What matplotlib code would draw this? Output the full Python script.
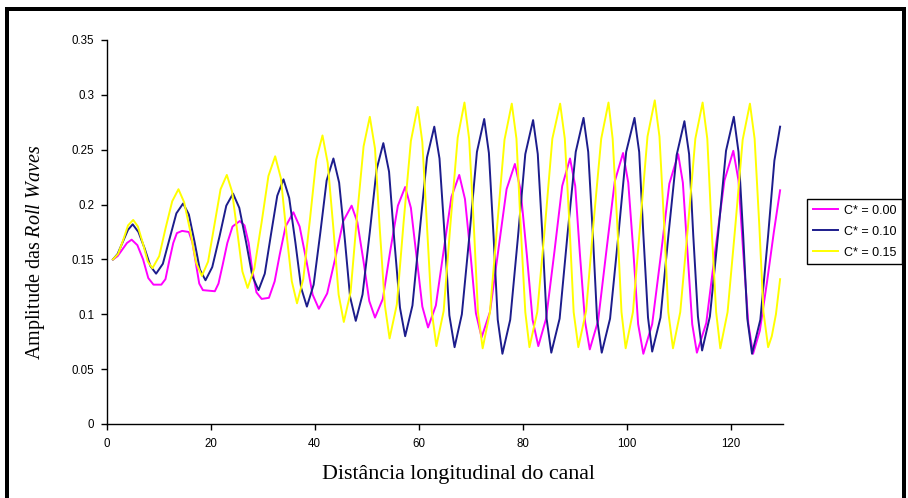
import numpy as np
import matplotlib.pyplot as plt
from matplotlib.patches import Rectangle
from matplotlib.ticker import FuncFormatter

plt.rcParams['mathtext.fontset'] = 'custom'
plt.rcParams['mathtext.rm'] = 'Liberation Serif'
plt.rcParams['mathtext.it'] = 'Liberation Serif:italic'

# ---- data (distance, amplitude) ----
labels = ["C* = 0.00", "C* = 0.10", "C* = 0.15"]
colors = ["#FF00FF", "#1C1C8C", "#FFFF00"]

x_c000 = [1.2, 2.1, 3.0, 3.9, 4.8, 5.9, 7.0, 8.0, 9.0, 10.5, 11.3, 12.0, 12.8, 13.5, 14.5, 15.8,
          16.5, 17.2, 17.8, 18.5, 20.8, 21.5, 22.3, 23.2, 24.2, 25.6, 26.5, 27.3, 28.0, 28.8, 29.8,
          31.2, 32.3, 33.3, 34.4, 35.9, 37.1, 38.4, 39.6, 40.8, 42.4, 44.0, 45.5, 47.1, 48.2, 49.4,
          50.5, 51.6, 53.1, 54.5, 56.0, 57.4, 58.5, 59.6, 60.7, 61.8, 63.3, 64.8, 66.3, 67.8, 68.9,
          70.0, 71.0, 72.1, 73.7, 75.3, 76.9, 78.5, 79.6, 80.8, 81.9, 83.0, 84.5, 86.1, 87.6, 89.1,
          90.1, 91.0, 92.0, 92.9, 94.5, 96.1, 97.7, 99.3, 100.3, 101.3, 102.2, 103.2, 104.9, 106.6,
          108.2, 109.9, 110.8, 111.7, 112.6, 113.5, 115.3, 117.0, 118.8, 120.5, 121.5, 122.4, 123.4,
          124.3, 125.6, 127.0, 128.3, 129.5]
y_c000 = [0.150, 0.153, 0.159, 0.165, 0.168, 0.163, 0.150, 0.133, 0.127, 0.127, 0.132, 0.148, 0.165,
          0.174, 0.176, 0.175, 0.165, 0.145, 0.128, 0.122, 0.121, 0.128, 0.145, 0.165, 0.180, 0.185,
          0.181, 0.165, 0.140, 0.120, 0.114, 0.115, 0.130, 0.155, 0.180, 0.193, 0.180, 0.149, 0.118,
          0.105, 0.119, 0.152, 0.185, 0.199, 0.184, 0.148, 0.112, 0.097, 0.114, 0.157, 0.199, 0.216,
          0.197, 0.152, 0.107, 0.088, 0.108, 0.158, 0.207, 0.227, 0.205, 0.153, 0.101, 0.079, 0.102,
          0.158, 0.214, 0.237, 0.213, 0.154, 0.095, 0.071, 0.096, 0.157, 0.217, 0.242, 0.217, 0.155,
          0.093, 0.068, 0.094, 0.158, 0.221, 0.247, 0.220, 0.156, 0.091, 0.064, 0.091, 0.155, 0.219,
          0.246, 0.220, 0.156, 0.091, 0.065, 0.092, 0.157, 0.222, 0.249, 0.222, 0.157, 0.091, 0.064,
          0.085, 0.130, 0.175, 0.213]

x_c010 = [1.2, 2.1, 3.1, 4.1, 5.0, 6.1, 7.3, 8.4, 9.5, 10.8, 12.1, 13.4, 14.7, 15.8, 16.9, 17.9,
          19.0, 20.3, 21.7, 23.0, 24.3, 25.5, 26.8, 28.0, 29.2, 30.4, 31.6, 32.8, 34.0, 35.1, 36.3,
          37.4, 38.5, 39.8, 41.1, 42.3, 43.6, 44.7, 45.8, 46.8, 47.9, 49.2, 50.6, 51.9, 53.2, 54.3,
          55.3, 56.4, 57.4, 58.8, 60.2, 61.6, 63.0, 64.0, 65.0, 65.9, 66.9, 68.3, 69.8, 71.2, 72.6,
          73.5, 74.4, 75.2, 76.1, 77.6, 79.1, 80.5, 82.0, 82.9, 83.8, 84.6, 85.5, 87.1, 88.6, 90.2,
          91.7, 92.6, 93.5, 94.3, 95.2, 96.8, 98.4, 99.9, 101.5, 102.4, 103.2, 104.1, 104.9, 106.5,
          108.0, 109.6, 111.1, 112.0, 112.8, 113.7, 114.5, 116.0, 117.6, 119.1, 120.6, 121.5, 122.4,
          123.2, 124.1, 125.7, 127.2, 128.4, 129.5]
y_c010 = [0.150, 0.155, 0.166, 0.177, 0.182, 0.175, 0.160, 0.144, 0.137, 0.146, 0.169, 0.192, 0.201,
          0.191, 0.166, 0.141, 0.131, 0.143, 0.171, 0.199, 0.210, 0.197, 0.166, 0.135, 0.122, 0.137,
          0.173, 0.208, 0.223, 0.206, 0.165, 0.124, 0.107, 0.127, 0.175, 0.222, 0.242, 0.220, 0.168,
          0.116, 0.094, 0.118, 0.175, 0.232, 0.256, 0.230, 0.168, 0.106, 0.080, 0.108, 0.176, 0.243,
          0.271, 0.242, 0.171, 0.099, 0.070, 0.100, 0.174, 0.248, 0.278, 0.247, 0.171, 0.095, 0.064,
          0.095, 0.171, 0.246, 0.277, 0.246, 0.171, 0.096, 0.065, 0.096, 0.172, 0.248, 0.279, 0.248,
          0.172, 0.096, 0.065, 0.096, 0.172, 0.248, 0.279, 0.248, 0.173, 0.097, 0.066, 0.097, 0.171,
          0.245, 0.276, 0.246, 0.172, 0.098, 0.067, 0.098, 0.174, 0.249, 0.280, 0.248, 0.172, 0.096,
          0.064, 0.095, 0.172, 0.240, 0.271]

x_c015 = [1.2, 2.2, 3.2, 4.1, 5.1, 6.0, 7.0, 7.9, 8.8, 10.1, 11.3, 12.6, 13.8, 14.9, 16.1, 17.2,
          18.3, 19.5, 20.7, 21.9, 23.1, 24.1, 25.1, 26.1, 27.1, 28.4, 29.8, 31.1, 32.4, 33.5, 34.5,
          35.6, 36.6, 37.8, 39.1, 40.3, 41.5, 42.5, 43.6, 44.6, 45.6, 46.9, 48.1, 49.4, 50.6, 51.6,
          52.5, 53.5, 54.4, 55.8, 57.1, 58.5, 59.8, 60.7, 61.6, 62.5, 63.4, 64.8, 66.1, 67.5, 68.8,
          69.7, 70.6, 71.4, 72.3, 73.7, 75.1, 76.5, 77.9, 78.8, 79.6, 80.5, 81.3, 82.8, 84.3, 85.7,
          87.2, 88.1, 89.0, 89.8, 90.7, 92.2, 93.6, 95.1, 96.5, 97.3, 98.2, 99.0, 99.8, 101.2, 102.6,
          104.0, 105.4, 106.3, 107.2, 108.0, 108.9, 110.3, 111.8, 113.2, 114.6, 115.5, 116.3, 117.2,
          118.0, 119.4, 120.9, 122.3, 123.7, 124.6, 125.5, 126.3, 127.2, 127.9, 128.7, 129.5]
y_c015 = [0.150, 0.155, 0.168, 0.181, 0.186, 0.180, 0.164, 0.148, 0.142, 0.153, 0.178, 0.203, 0.214,
          0.202, 0.175, 0.147, 0.135, 0.148, 0.181, 0.214, 0.227, 0.212, 0.176, 0.139, 0.124, 0.142,
          0.184, 0.226, 0.244, 0.224, 0.177, 0.130, 0.110, 0.132, 0.187, 0.241, 0.263, 0.238, 0.178,
          0.118, 0.093, 0.120, 0.187, 0.253, 0.280, 0.251, 0.179, 0.108, 0.078, 0.109, 0.184, 0.258,
          0.289, 0.257, 0.180, 0.103, 0.071, 0.103, 0.182, 0.261, 0.293, 0.260, 0.181, 0.102, 0.069,
          0.102, 0.181, 0.259, 0.292, 0.260, 0.181, 0.102, 0.070, 0.102, 0.181, 0.260, 0.292, 0.260,
          0.181, 0.102, 0.070, 0.103, 0.182, 0.260, 0.293, 0.260, 0.181, 0.102, 0.069, 0.102, 0.182,
          0.262, 0.295, 0.262, 0.182, 0.102, 0.069, 0.102, 0.181, 0.260, 0.293, 0.260, 0.181, 0.102,
          0.069, 0.102, 0.181, 0.259, 0.292, 0.260, 0.181, 0.102, 0.070, 0.080, 0.100, 0.132]

x_ticks = [0, 20, 40, 60, 80, 100, 120]
y_ticks = [0, 0.05, 0.1, 0.15, 0.2, 0.25, 0.3, 0.35]

series = [(x_c000, y_c000), (x_c010, y_c010), (x_c015, y_c015)]

W, H = 908.0, 498.0
fig = plt.figure(figsize=(W / 100, H / 100), dpi=100)
fig.patch.set_facecolor("white")
ax = fig.add_axes([0.1175, 0.1486, 0.7445, 0.7711])

for (xs, ys), lab, col in zip(series, labels, colors):
    ax.plot(xs, ys, color=col, lw=1.4, label=lab)

ax.set_xlim(0, 130)
ax.set_ylim(0, 0.35)
ax.set_xticks(x_ticks)
ax.set_yticks(y_ticks)
ax.yaxis.set_major_formatter(FuncFormatter(lambda v, p: "%g" % v))
for s in ["top", "right"]:
    ax.spines[s].set_visible(False)
for s in ["left", "bottom"]:
    ax.spines[s].set_linewidth(1.0)
ax.tick_params(direction="out", length=4, width=1.0, labelsize=8.3)
ax.tick_params(axis="x", pad=6)
ax.tick_params(axis="y", pad=5)
for t in ax.get_xticklabels() + ax.get_yticklabels():
    t.set_fontfamily("Liberation Sans")

ax.set_xlabel("Distância longitudinal do canal", fontsize=15.8,
              fontfamily="Liberation Serif")
ax.xaxis.set_label_coords(0.521, -0.107)
ax.set_ylabel(r"Amplitude das $\mathit{Roll\ Waves}$", fontsize=14.5,
              fontfamily="Liberation Serif")
ax.yaxis.set_label_coords(-0.089, 0.448)

leg = ax.legend(loc="upper left", bbox_to_anchor=(807 / W, 1 - 199 / H),
                bbox_transform=fig.transFigure, borderaxespad=0, frameon=True,
                fancybox=False, edgecolor="black", framealpha=1, borderpad=0.45,
                handlelength=2.0, handletextpad=0.5, labelspacing=0.72,
                prop={"family": "Liberation Sans", "size": 9})
leg.get_frame().set_linewidth(1.0)

# black frame round the picture (left, top, right)
for (x0, y0, w, h) in [(5, 0, 3.5, 491), (5, 487, 901, 4), (902, 0, 4, 491)]:
    fig.add_artist(Rectangle((x0 / W, y0 / H), w / W, h / H, transform=fig.transFigure,
                             facecolor="black", edgecolor="none"))

fig.savefig("out.png", dpi=100, facecolor="white")
